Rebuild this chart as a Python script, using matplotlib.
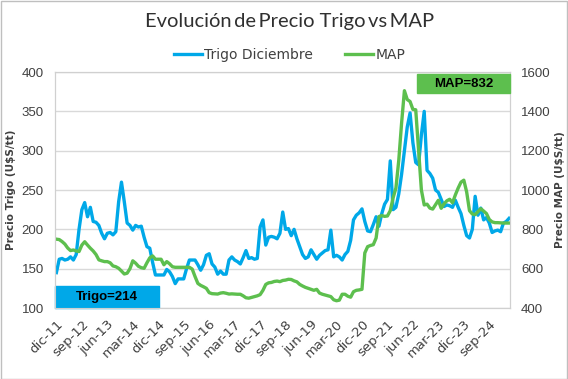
import numpy as np
import matplotlib
matplotlib.use('Agg')
import matplotlib.pyplot as plt
from matplotlib.patches import Rectangle

# Datos mensuales desde dic-11 hasta abr-25
trigo = [145, 162, 163, 161, 162, 165, 161, 168, 200, 225,
         234, 216, 228, 210, 209, 205, 195, 188, 195, 196,
         193, 197, 235, 260, 235, 208, 205, 199, 205, 203,
         204, 190, 178, 176, 158, 142, 142, 142, 142, 149,
         146, 140, 131, 137, 137, 137, 150, 161, 161, 161,
         155, 148, 155, 167, 169, 156, 152, 143, 147, 143,
         143, 161, 165, 161, 159, 156, 164, 173, 163, 164,
         162, 163, 203, 212, 180, 190, 191, 190, 188, 195,
         222, 200, 201, 192, 200, 188, 178, 168, 163, 165,
         174, 168, 162, 167, 170, 173, 174, 199, 165, 167,
         165, 161, 168, 172, 186, 212, 218, 221, 226, 210,
         198, 197, 206, 216, 204, 220, 232, 238, 287, 225,
         228, 245, 270, 300, 330, 348, 310, 285, 282, 320,
         350, 275, 271, 265, 250, 247, 238, 229, 231, 230,
         228, 237, 228, 220, 205, 192, 189, 200, 242, 218,
         227, 212, 215, 208, 196, 198, 199, 197, 208, 210,
         214]

map_precio = [750, 748, 738, 725, 705, 692, 695, 690, 687, 720,
              737, 720, 704, 690, 672, 645, 640, 636, 636, 630,
              614, 610, 602, 588, 573, 577, 600, 640, 628, 612,
              605, 602, 630, 655, 665, 648, 648, 648, 620, 636,
              625, 610, 607, 607, 607, 607, 607, 607, 598, 560,
              525, 515, 508, 500, 478, 473, 472, 471, 476, 478,
              475, 471, 472, 471, 470, 470, 462, 452, 450, 454,
              458, 462, 468, 490, 520, 528, 530, 535, 537, 534,
              540, 542, 546, 545, 538, 533, 520, 512, 505, 500,
              495, 490, 495, 476, 470, 466, 462, 458, 442, 437,
              440, 470, 470, 460, 455, 483, 490, 492, 495, 680,
              712, 718, 722, 756, 865, 870, 866, 868, 895, 960,
              1010, 1150, 1340, 1505, 1460, 1450, 1410, 1408, 1200, 1000,
              924, 928, 908, 903, 925, 948, 907, 930, 945, 953,
              935, 975, 1010, 1040, 1050, 990, 895, 878, 875, 890,
              905, 893, 880, 850, 838, 834, 834, 833, 832, 832,
              832]

etiquetas = ['dic-11', 'sep-12', 'jun-13', 'mar-14', 'dic-14', 'sep-15',
             'jun-16', 'mar-17', 'dic-17', 'sep-18', 'jun-19', 'mar-20',
             'dic-20', 'sep-21', 'jun-22', 'mar-23', 'dic-23', 'sep-24']

azul = '#00A8E8'
verde = '#5DBF4E'
gris_texto = '#404040'

x = np.arange(len(trigo))

fig = plt.figure(figsize=(5.68, 3.79), dpi=100)
ax = fig.add_axes([0.0968, 0.1873, 0.801, 0.6227])
ax2 = ax.twinx()

l1, = ax.plot(x, trigo, color=azul, lw=2.4, label='Trigo Diciembre')
l2, = ax2.plot(x, map_precio, color=verde, lw=2.4, label='MAP')

ax.set_xlim(-0.5, len(trigo) - 0.7)
ax.set_ylim(100, 400)
ax2.set_ylim(400, 1600)
ax.set_yticks(np.arange(100, 401, 50))
ax2.set_yticks(np.arange(400, 1601, 200))
ax.set_xticks(x[::9][:len(etiquetas)])
ax.set_xticklabels(etiquetas, rotation=45, ha='right', rotation_mode='anchor', fontsize=9.5)

ax.grid(axis='y', color='#d9d9d9', lw=1)
ax.set_axisbelow(True)
for a in (ax, ax2):
    for s in a.spines.values():
        s.set_color('#d0d0d0')
    a.tick_params(length=0, labelcolor=gris_texto)
ax.tick_params(axis='x', pad=7)
ax.tick_params(axis='y', pad=8)
ax2.tick_params(axis='y', pad=8)
for t in ax.get_yticklabels() + ax2.get_yticklabels():
    t.set_family('Liberation Sans')
    t.set_fontsize(9.5)

ax.set_ylabel('Precio Trigo (U$S/tt)', fontsize=7.5, fontweight='bold', color=gris_texto, labelpad=4)
ax2.set_ylabel('Precio MAP (U$S/tt)', fontsize=7.5, fontweight='bold', color=gris_texto, labelpad=3)

# Cajas con el ultimo valor
ax.add_patch(Rectangle((0, 0), 0.229, 0.093, transform=ax.transAxes, color=azul, zorder=5, clip_on=False))
ax.text(0.115, 0.046, 'Trigo=' + str(trigo[-1]), transform=ax.transAxes, ha='center', va='center',
        fontsize=9.5, fontweight='bold', color='black', zorder=6, family='Liberation Sans')
ax2.add_patch(Rectangle((0.796, 0.911), 0.204, 0.081, transform=ax2.transAxes, color=verde, zorder=5, clip_on=False))
ax2.text(0.898, 0.951, 'MAP=' + str(map_precio[-1]), transform=ax2.transAxes, ha='center', va='center',
         fontsize=9.5, fontweight='bold', color='black', zorder=6, family='Liberation Sans')

fig.text(0.51, 0.942, 'Evolución\u2009de\u2009Precio Trigo\u2009vs\u2009MAP', ha='center', va='center',
         fontsize=14.5, color='#303030', family=['Lato', 'DejaVu Sans'])
fig.legend(handles=[l1, l2], loc='center', bbox_to_anchor=(0.51, 0.855), ncol=2, frameon=False,
           fontsize=10, handlelength=2.0, handletextpad=0.2, columnspacing=2.3,
           labelcolor=gris_texto)

# Borde del area del grafico
fig.add_artist(Rectangle((0.001, 0.001), 0.997, 0.997, transform=fig.transFigure,
                         fill=False, edgecolor='#bfbfbf', lw=1))

plt.savefig('out.png', dpi=100)
plt.close()
